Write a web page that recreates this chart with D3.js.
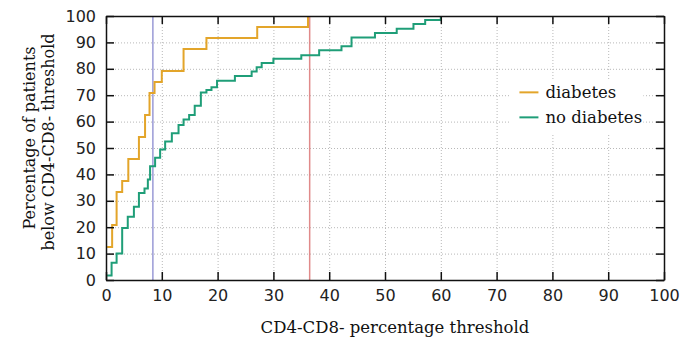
<!DOCTYPE html>
<meta charset="utf-8">
<style>
body { margin: 0; background: #fff; }
.tick text { font: 16px "DejaVu Sans", sans-serif; fill: #222; }
.title { font: 16.5px "DejaVu Serif", serif; fill: #111; }
.ytitle { font: 16px "DejaVu Serif", serif; fill: #111; }
.grid line { stroke: #b8b8b8; stroke-width: 1; stroke-dasharray: 1,2; }
.grid path { display: none; }
</style>
<svg width="686" height="338"></svg>
<script src="https://d3js.org/d3.v7.min.js"></script>
<script>

// threshold (%) and cumulative share of patients (%)
var diabetesX = [0.2, 1.1, 1.9, 2.9, 4.0, 5.9, 7.0, 7.8, 8.7, 10.0, 13.9, 18.0, 27.1, 36.2];
var diabetesY = [12.5, 20.8, 33.3, 37.5, 45.8, 54.2, 62.5, 70.8, 75.0, 79.2, 87.5, 91.7, 95.8, 100];

var noDiabetesX = [0.2, 1.0, 1.9, 2.9, 3.9, 5.0, 5.9, 6.9, 7.5, 7.9, 8.8, 9.7, 10.6, 11.8, 13.0, 13.9,
  14.9, 15.9, 17.0, 18.0, 18.9, 19.9, 23.1, 26.1, 27.0, 27.9, 30.0, 35.0, 38.2, 42.2, 44.0, 48.2,
  52.1, 55.1, 57.2, 60.0];
var noDiabetesY = [1.7, 6.5, 10, 19.7, 24, 27.7, 33, 34.7, 38.1, 43.1, 46.3, 49.4, 52.5, 55.6, 58.7, 60.8,
  62.5, 66, 71, 72, 73, 75.5, 77.3, 79, 80.6, 82.2, 83.8, 85.1, 87, 88.5, 91.9, 93.6,
  95.2, 97, 98.5, 100];

// vertical marker lines
var markers = [{x: 8.4, color: "#9a9ad6"}, {x: 36.5, color: "#e08a8a"}];

var ticks = [0, 10, 20, 30, 40, 50, 60, 70, 80, 90, 100];
var seriesNames = ["diabetes", "no diabetes"];
var seriesColors = ["#e3a52a", "#1f9e78"];

var svg = d3.select("svg"),
    margin = {top: 16, right: 22, bottom: 58, left: 106},
    width = +svg.attr("width") - margin.left - margin.right,
    height = +svg.attr("height") - margin.top - margin.bottom,
    g = svg.append("g").attr("transform", "translate(" + margin.left + "," + margin.top + ")");

var x = d3.scaleLinear().domain([0, 100]).range([0, width]);
var y = d3.scaleLinear().domain([0, 100]).range([height, 0]);

// grid
g.append("g").attr("class", "grid")
    .attr("transform", "translate(0," + height + ")")
    .call(d3.axisBottom(x).tickValues(ticks).tickSize(-height).tickFormat(""));
g.append("g").attr("class", "grid")
    .call(d3.axisLeft(y).tickValues(ticks).tickSize(-width).tickFormat(""));

// markers
g.selectAll(".marker")
  .data(markers)
  .enter().append("line")
    .attr("class", "marker")
    .attr("x1", function(d) { return x(d.x); })
    .attr("x2", function(d) { return x(d.x); })
    .attr("y1", 0)
    .attr("y2", height)
    .attr("stroke", function(d) { return d.color; })
    .attr("stroke-width", 1.5);

var line = d3.line()
    .x(function(d) { return x(d[0]); })
    .y(function(d) { return y(d[1]); })
    .curve(d3.curveStepAfter);

var series = [d3.zip(diabetesX, diabetesY), d3.zip(noDiabetesX, noDiabetesY)];

g.selectAll(".series")
  .data(series)
  .enter().append("path")
    .attr("class", "series")
    .attr("fill", "none")
    .attr("stroke", function(d, i) { return seriesColors[i]; })
    .attr("stroke-width", 2)
    .attr("d", line);

// legend (opaque box, no border)
var legend = g.append("g").attr("transform", "translate(" + (x(72.3)) + "," + (y(76)) + ")");
legend.append("rect")
    .attr("width", x(24) - x(0))
    .attr("height", y(55) - y(76))
    .attr("fill", "#fff");
seriesNames.forEach(function(name, i) {
  var row = legend.append("g").attr("transform", "translate(0," + (13 + i * 25) + ")");
  row.append("line")
      .attr("x1", 10).attr("x2", 29)
      .attr("stroke", seriesColors[i]).attr("stroke-width", 2);
  row.append("text")
      .attr("class", "title")
      .attr("x", 36)
      .attr("dy", "0.32em")
      .text(name);
});

// frame with inward ticks on all sides
var frame = [
  {axis: d3.axisBottom(x), t: "translate(0," + height + ")", labels: true},
  {axis: d3.axisLeft(y), t: null, labels: true},
  {axis: d3.axisTop(x), t: null, labels: false},
  {axis: d3.axisRight(y), t: "translate(" + width + ",0)", labels: false}
];
frame.forEach(function(f) {
  var a = g.append("g")
      .attr("transform", f.t)
      .call(f.axis.tickValues(ticks).tickSizeInner(-8).tickSizeOuter(0).tickPadding(10)
        .tickFormat(f.labels ? d3.format("d") : ""));
  a.select(".domain").attr("stroke", "#111").attr("stroke-width", 1.5);
  a.selectAll(".tick line").attr("stroke", "#111").attr("stroke-width", 1.5);
});

// axis titles
svg.append("text")
    .attr("class", "title")
    .attr("x", margin.left + width / 2 + 10)
    .attr("y", 333)
    .attr("text-anchor", "middle")
    .text("CD4-CD8- percentage threshold");

svg.append("text")
    .attr("class", "ytitle")
    .attr("transform", "translate(35,138) rotate(-90)")
    .attr("text-anchor", "middle")
    .text("Percentage of patients");
svg.append("text")
    .attr("class", "ytitle")
    .attr("transform", "translate(54,142) rotate(-90)")
    .attr("text-anchor", "middle")
    .text("below CD4-CD8- threshold");

</script>
